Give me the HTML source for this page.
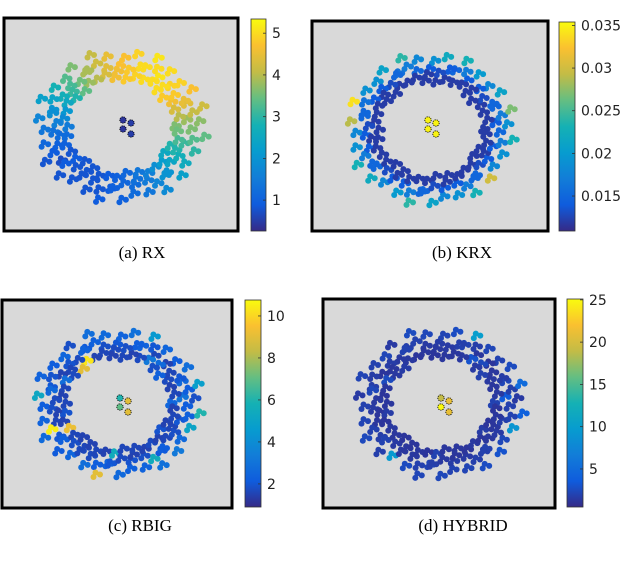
<!DOCTYPE html>
<html><head><meta charset="utf-8">
<style>
body{margin:0;background:#fff;}
svg{display:block;}
text{font-family:"DejaVu Sans","Liberation Sans",sans-serif;}
.cap{font-family:"Liberation Serif",serif;font-size:17px;}
</style></head>
<body>
<svg id="fig" width="640" height="567"></svg>
<script>
// shared ring point positions (angle in degrees, radius fraction)
const angles = [
0,4,6,10,12,15,19,21, 24,28,30,33,37,39,42,46, 48,51,55,57,60,64,66,69,
73,75,78,82,84,87,91,93, 96,100,102,105,109,111,114,118, 120,123,127,129,132,136,138,141,
145,147,150,154,156,159,163,165, 168,172,174,177,181,183,186,190, 192,195,199,201,204,208,210,213,
217,219,222,226,228,231,235,237, 240,244,246,249,253,255,258,262, 264,267,271,273,276,280,282,285,
289,291,294,298,300,303,307,309, 312,316,318,321,325,327,330,334, 336,339,343,345,348,352,354,357];
const radii = [
0.64,0.93,0.78,0.70,0.87,1.0,0.67,0.83, 0.82,0.68,0.97,0.75,0.62,0.90,0.79,0.72, 0.64,0.93,0.78,0.70,0.87,1.0,0.67,0.83,
0.82,0.68,0.97,0.75,0.62,0.90,0.79,0.72, 0.64,0.93,0.78,0.70,0.87,1.0,0.67,0.83, 0.82,0.68,0.97,0.75,0.62,0.90,0.79,0.72,
0.64,0.93,0.78,0.70,0.87,1.0,0.67,0.83, 0.82,0.68,0.97,0.75,0.62,0.90,0.79,0.72, 0.64,0.93,0.78,0.70,0.87,1.0,0.67,0.83,
0.82,0.68,0.97,0.75,0.62,0.90,0.79,0.72, 0.64,0.93,0.78,0.70,0.87,1.0,0.67,0.83, 0.82,0.68,0.97,0.75,0.62,0.90,0.79,0.72,
0.64,0.93,0.78,0.70,0.87,1.0,0.67,0.83, 0.82,0.68,0.97,0.75,0.62,0.90,0.79,0.72, 0.64,0.93,0.78,0.70,0.87,1.0,0.67,0.83];
const valuesRX = [
3.6,3.7,3.8,4.0,4.1,4.2,4.3,4.4, 4.5,4.6,4.7,4.8,4.8,4.9,4.9,5.0, 5.0,5.0,5.1,5.0,5.0,5.1,5.0,5.0,
5.0,4.9,4.9,4.8,4.8,4.7,4.7,4.6, 4.6,4.5,4.4,4.3,4.2,4.1,4.0,3.9, 3.9,3.8,3.6,3.5,3.4,3.3,3.2,3.1,
2.9,2.8,2.7,2.5,2.4,2.3,2.1,2.0, 1.9,1.8,1.7,1.6,1.5,1.4,1.3,1.2, 1.2,1.1,1.0,1.0,0.9,0.8,0.8,0.7,
0.9,0.9,0.8,0.8,0.8,0.8,0.8,0.8, 0.8,0.8,0.8,0.8,0.8,0.9,0.9,0.9, 1.0,1.0,1.0,1.1,1.1,1.2,1.2,1.3,
1.4,1.4,1.5,1.6,1.7,1.8,1.9,2.0, 2.0,2.2,2.3,2.4,2.5,2.6,2.7,2.9, 2.9,3.0,3.1,3.2,3.3,3.4,3.5,3.6];
const valuesKRX = [
0.012,0.019,0.014,0.012,0.017,0.027,0.012,0.015, 0.015,0.012,0.021,0.013,0.012,0.018,0.014,0.012, 0.012,0.020,0.014,0.012,0.017,0.023,0.012,0.015,
0.014,0.012,0.022,0.013,0.012,0.019,0.014,0.012, 0.012,0.018,0.015,0.012,0.017,0.024,0.012,0.016, 0.015,0.012,0.021,0.013,0.012,0.019,0.014,0.012,
0.012,0.019,0.014,0.012,0.016,0.034,0.012,0.015, 0.015,0.012,0.029,0.013,0.012,0.018,0.014,0.012, 0.012,0.019,0.014,0.012,0.017,0.023,0.012,0.015,
0.015,0.012,0.022,0.013,0.012,0.018,0.014,0.012, 0.012,0.020,0.014,0.012,0.017,0.024,0.012,0.015, 0.015,0.012,0.021,0.013,0.012,0.018,0.014,0.012,
0.012,0.019,0.014,0.012,0.017,0.023,0.012,0.015, 0.015,0.012,0.030,0.013,0.012,0.018,0.014,0.012, 0.012,0.019,0.014,0.012,0.017,0.023,0.012,0.015];
const valuesRBIG = [
2.5,1.8,3.0,1.6,2.2,4.8,1.5,2.6, 2.0,1.7,2.8,1.6,2.3,2.2,1.5,2.7, 1.8,2.5,1.6,3.2,2.0,4.5,1.7,2.4,
2.2,1.5,2.9,1.8,1.6,2.4,2.0,1.7, 1.5,2.6,1.8,1.6,2.3,2.8,1.5,2.1, 2.4,10.3,1.8,1.7,9.0,2.5,1.9,1.6,
1.7,2.2,1.5,2.8,1.9,2.4,1.6,2.0, 2.6,1.5,5.2,1.7,1.6,2.2,1.8,1.5, 1.9,2.4,1.6,1.5,10.5,2.7,9.2,2.0,
2.3,1.6,2.1,1.8,1.5,2.5,1.7,1.6, 1.5,2.8,1.7,1.6,2.2,9.0,1.5,2.4, 2.0,5.5,2.6,1.7,1.6,2.3,1.9,1.5,
1.6,2.4,1.8,1.5,5.5,2.9,1.7,2.1, 2.2,1.5,3.2,1.6,1.9,2.6,1.8,1.6, 1.5,5.0,2.0,1.6,2.3,6.0,1.5,2.2];
const valuesHYBRID = [
2.0,1.5,3.5,1.4,1.8,5.0,1.3,2.2, 1.6,1.4,2.5,1.3,1.9,2.0,1.2,2.4, 1.5,2.2,1.3,3.0,1.7,10.0,1.4,2.0,
1.8,1.3,2.6,1.5,1.3,2.1,1.6,1.4, 1.2,2.3,1.5,1.3,1.9,2.5,1.2,1.8, 2.0,1.4,1.5,1.4,1.6,2.2,1.6,1.3,
1.4,1.9,1.2,2.5,1.6,2.1,1.3,1.7, 2.3,1.2,1.5,1.4,1.3,1.9,1.5,1.2, 1.6,2.1,1.3,1.2,1.9,2.4,1.4,1.7,
2.0,1.3,1.8,1.5,1.2,9.5,1.4,1.3, 1.2,2.5,1.4,1.3,1.9,2.2,1.2,2.1, 1.7,2.0,2.3,1.4,1.3,2.0,1.6,1.2,
1.3,2.1,1.5,1.2,1.8,2.6,1.4,1.8, 1.9,1.2,3.0,1.3,1.6,2.3,1.5,1.3, 1.2,9.0,1.7,1.3,2.0,4.0,1.2,1.9];
// four anomaly points in the centre
const anomalyDX = [-4,4,-4,4];
const anomalyDY = [-5,-2,4,9];
const anomalyRX = [0.4,0.5,0.4,0.5];
const anomalyKRX = [0.035,0.035,0.035,0.035];
const anomalyRBIG = [6.0,9.0,7.0,9.0];
const anomalyHYBRID = [19,21,25,21];
// colorbar ticks
const ticksRX = [1,2,3,4,5];
const ticksKRX = [0.015,0.02,0.025,0.03,0.035];
const labelsKRX = ["0.015","0.02","0.025","0.03","0.035"];
const ticksRBIG = [2,4,6,8,10];
const ticksHYBRID = [5,10,15,20,25];

const NS="http://www.w3.org/2000/svg";
const svg=document.getElementById('fig');
function mk(tag,attrs,parent){const e=document.createElementNS(NS,tag);for(const k in attrs)e.setAttribute(k,attrs[k]);(parent||svg).appendChild(e);return e;}
const stops=[[53,42,135],[15,92,221],[18,125,216],[7,156,207],[21,177,180],[100,190,130],[195,188,70],[250,192,48],[249,251,14]];
function parula(t){t=Math.max(0,Math.min(1,t));const p=t*(stops.length-1);const i=Math.min(stops.length-2,Math.floor(p));const f=p-i;const a=stops[i],b=stops[i+1];return `rgb(${Math.round(a[0]+(b[0]-a[0])*f)},${Math.round(a[1]+(b[1]-a[1])*f)},${Math.round(a[2]+(b[2]-a[2])*f)})`;}
const defs=mk('defs',{});
const g=mk('linearGradient',{id:'par',x1:0,y1:1,x2:0,y2:0},defs);
stops.forEach((s,i)=>mk('stop',{offset:i/(stops.length-1),'stop-color':`rgb(${s[0]},${s[1]},${s[2]})`},g));
// marker glyph: small cluster shape (style only)
const glyph=[[0,0],[4.5,2],[-2,4.5]];

const panels=[
 {name:'rx',box:[4,18,234,213],c:[120,124],r:[85,76],cc:[127,125],vals:valuesRX,an:anomalyRX,cb:[251,19,15,212],vmin:0.26,vmax:5.34,ticks:ticksRX,labels:ticksRX.map(String),cap:'(a) RX',capx:142,capy:258},
 {name:'krx',box:[312,21,236,210],c:[430,127],r:[83,76],cc:[432,125],vals:valuesKRX,an:anomalyKRX,cb:[559,22,16,209],vmin:0.0109,vmax:0.0354,ticks:ticksKRX,labels:labelsKRX,cap:'(b) KRX',capx:462,capy:258},
 {name:'rbig',box:[2,300,230,208],c:[117,401],r:[83,74],cc:[124,403],vals:valuesRBIG,an:anomalyRBIG,cb:[245,300,16,207],vmin:0.9,vmax:10.76,ticks:ticksRBIG,labels:ticksRBIG.map(String),cap:'(c) RBIG',capx:140,capy:531},
 {name:'hybrid',box:[323,299,232,209],c:[439,401],r:[84,75],cc:[445,403],vals:valuesHYBRID,an:anomalyHYBRID,cb:[567,299,16,208],vmin:0.5,vmax:25.1,ticks:ticksHYBRID,labels:ticksHYBRID.map(String),cap:'(d) HYBRID',capx:463,capy:531}
];
panels.forEach(p=>{
 const grp=mk('g',{});
 
 
 const [bx,by,bw,bh]=p.box;
 const bg=mk('rect',{x:bx,y:by,width:bw,height:bh,fill:'#d9d9d9',stroke:'#000','stroke-width':3},grp);
 
 
 const norm=v=>(v-p.vmin)/(p.vmax-p.vmin);
 angles.forEach((a,i)=>{
  const th=a*Math.PI/180;
  const x=p.c[0]+Math.cos(th)*radii[i]*p.r[0];
  const y=p.c[1]-Math.sin(th)*radii[i]*p.r[1];
  const pg=mk('g',{fill:parula(norm(p.vals[i]))},grp);
  
  
  glyph.forEach(o=>mk('circle',{cx:(x+o[0]).toFixed(1),cy:(y+o[1]).toFixed(1),r:3},pg));
 });
 anomalyDX.forEach((dx,i)=>{
  const d=mk('circle',{cx:p.cc[0]+dx,cy:p.cc[1]+anomalyDY[i],r:3.2,fill:parula(norm(p.an[i])),stroke:'#000','stroke-width':0.8,'stroke-dasharray':'1.2,1'},grp);
  
  
 });
 const [cx,cy,cw,ch]=p.cb;
 const cb=mk('rect',{x:cx,y:cy,width:cw,height:ch,fill:'url(#par)',stroke:'#333','stroke-width':0.8},grp);
 
 
 p.ticks.forEach((t,i)=>{
  const y=cy+ch-(t-p.vmin)/(p.vmax-p.vmin)*ch;
  mk('line',{x1:cx+cw-3,x2:cx+cw,y1:y,y2:y,stroke:'#333','stroke-width':0.8},grp);
  const tx=mk('text',{x:cx+cw+6,y:y+5,'font-size':14,fill:'#222'},grp);
  tx.textContent=p.labels[i];
  
  
 });
 const cap=mk('text',{x:p.capx,y:p.capy,'text-anchor':'middle',class:'cap',fill:'#000'},grp);
 cap.textContent=p.cap;
 
 
});
</script>
</body></html>
